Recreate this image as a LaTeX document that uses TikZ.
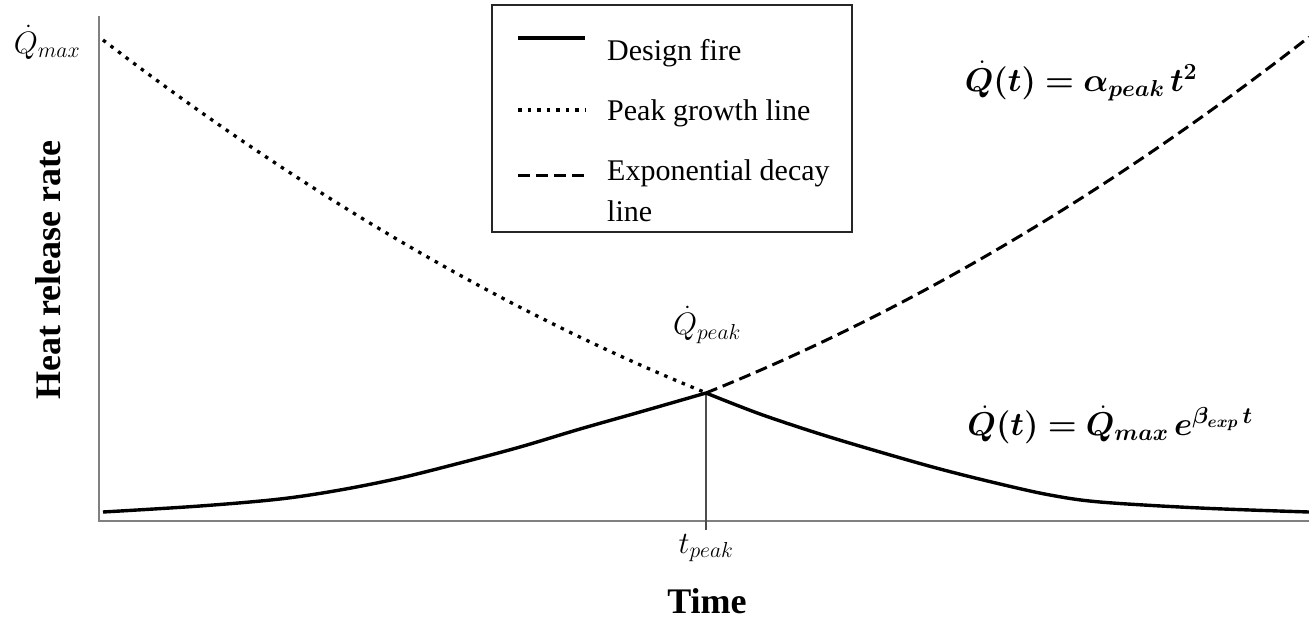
\RequirePackage{fix-cm}
\documentclass[tikz,border=0pt]{standalone}
\usepackage{amsmath,bm}
\usepackage{fontspec}
\setmainfont{Liberation Serif}
\begin{document}
\begin{tikzpicture}[x=1pt,y=-1pt,
  axisline/.style={draw=black!50, line width=2pt},
  peakline/.style={draw=black!70, line width=1.3pt},
  designfire/.style={draw=black, line width=3.4pt, line join=round},
  growthline/.style={draw=black, line width=3.3pt, dash pattern=on 3.5pt off 6pt},
  decayline/.style={draw=black, line width=3pt, dash pattern=on 12pt off 6pt},
  legendbox/.style={draw=black!85, line width=2.2pt},
  legtext/.style={anchor=base west, inner sep=0pt, font=\fontsize{30}{36}\selectfont},
  axlabel/.style={inner sep=0pt, font=\fontsize{36}{40}\selectfont\bfseries},
  mathlabel/.style={inner sep=0pt, font=\fontsize{31}{36}\selectfont},
  formula/.style={inner sep=0pt, font=\fontsize{33}{38}\selectfont}
]
\useasboundingbox (0,0) rectangle (1309,619);

% axes
\coordinate (origin) at (99,521);
\coordinate (ytop) at (99,16);
\coordinate (xend) at (1309,521);
\draw[axisline] (ytop) -- (origin) -- (xend);

% peak point and its drop line to the time axis
\coordinate (peak) at (706,393);
\coordinate (ptick) at (706,530);
\draw[peakline] (peak) -- (ptick);

% peak growth line (t-squared branch mirrored to the left of the peak)
\draw[growthline] plot[domain=0:6.03, samples=80]
  ({103+100*\x}, {40 + 76.6*\x - 3.0*\x*\x});

% exponential decay line continued past the peak
\draw[decayline] plot[domain=6.03:0, samples=80]
  ({1309-100*\x}, {37 + 77.9*\x - 3.13*\x*\x});

% design fire curve
\draw[designfire] plot[smooth, tension=0.55] coordinates {
  (103,512) (200,506) (280,499) (340,490) (400,478) (460,463)
  (520,447) (580,429) (640,412) (706,393)};
\draw[designfire] plot[smooth, tension=0.55] coordinates {
  (706,393) (760,414) (820,434) (880,452) (940,469) (1000,484)
  (1050,495) (1100,502) (1200,508) (1309,512)};

% legend
\draw[legendbox] (492,5) rectangle (852,232);
\coordinate (lf1) at (518,38);  \coordinate (lf2) at (585,38);
\coordinate (lg1) at (518,110); \coordinate (lg2) at (585,110);
\coordinate (ld1) at (518,175); \coordinate (ld2) at (585,175);
\draw[designfire] (lf1) -- (lf2);
\draw[growthline] (lg1) -- (lg2);
\draw[decayline] (ld1) -- (ld2);
\node[legtext] (legfire)   at (607,60)  {Design fire};
\node[legtext] (leggrowth) at (607,120) {Peak growth line};
\node[legtext] (legdecay)  at (607,180) {Exponential decay};
\node[legtext] (legdecayb) at (607,221) {line};

% axis titles
\node[axlabel, rotate=90] (ylab) at (48,270) {Heat release rate};
\node[axlabel] (xlab) at (707,601) {Time};

% point labels
\node[mathlabel] (qmax)  at (47,42)   {$\dot{Q}_{max}$};
\node[mathlabel] (qpeak) at (707,325) {$\dot{Q}_{peak}$};
\node[mathlabel] (tpeak) at (706,548) {$t_{peak}$};

% curve equations
\node[formula] (eqgrow)  at (1081,81)  {$\bm{\dot{Q}(t) = \alpha_{peak}\, t^{2}}$};
\node[formula] (eqdecay) at (1110,425) {$\bm{\dot{Q}(t) = \dot{Q}_{max}\, e^{\beta_{exp}\, t}}$};
\end{tikzpicture}
\end{document}
